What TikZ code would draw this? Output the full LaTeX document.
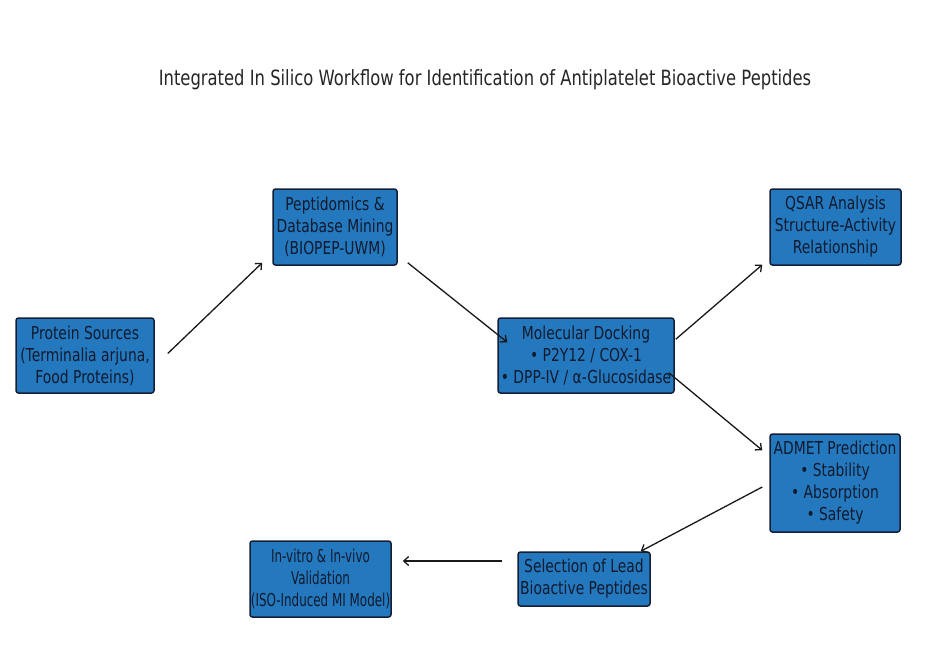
\documentclass[tikz,border=0pt]{standalone}
\usepackage{fontspec}
\setmainfont{DejaVu Sans}[FakeStretch=0.78]
\newfontfamily\narrowfont{DejaVu Sans}[FakeStretch=0.67]
\usetikzlibrary{arrows.meta,calc}
\definecolor{boxfill}{RGB}{36,120,190}
\definecolor{boxline}{RGB}{20,30,52}
\definecolor{txt}{RGB}{18,26,46}
\tikzset{
  stepbox/.style={draw=boxline, line width=1.5pt, fill=boxfill, rounded corners=2.5pt,
    inner sep=0pt, align=center, text=txt,
    font=\fontsize{17.8}{22}\selectfont},
  arr/.style={draw=black!90, line width=1.3pt, -{Straight Barb[length=5pt,width=9pt]}}
}
\begin{document}
\begin{tikzpicture}[x=1pt,y=-1pt]
\useasboundingbox[fill=white] (0,0) rectangle (926,670);
\node[font=\fontsize{21}{24}\selectfont, text=black!85] (title) at (485,80) {Integrated In Silico Workflow for Identification of Antiplatelet Bioactive Peptides};

\node[stepbox, minimum width=138pt, minimum height=75pt] (p1) at (85,355.5)
  {Protein Sources\\(Terminalia arjuna,\\Food Proteins)};
\node[stepbox, minimum width=124pt, minimum height=76pt] (p2) at (335,227)
  {Peptidomics \&\\Database Mining\\(BIOPEP-UWM)};
\node[stepbox, minimum width=176pt, minimum height=75pt] (p3) at (586,355.5)
  {Molecular Docking\\• P2Y12 / COX-1\\• DPP-IV / α-Glucosidase};
\node[stepbox, minimum width=131pt, minimum height=76pt] (p4) at (835.5,227)
  {QSAR Analysis\\Structure-Activity\\Relationship};
\node[stepbox, minimum width=130pt, minimum height=98pt] (p5) at (835,483)
  {ADMET Prediction\\• Stability\\• Absorption\\• Safety};
\node[stepbox, minimum width=132pt, minimum height=54pt] (p6) at (584,579)
  {Selection of Lead\\Bioactive Peptides};
\node[stepbox, minimum width=141pt, minimum height=76pt, font=\narrowfont\fontsize{17.8}{22}\selectfont] (p7) at (320.5,579)
  {In-vitro \& In-vivo\\Validation\\(ISO-Induced MI Model)};

\draw[arr] ($(p1.east)+(13,-2)$) -- ($(p2.south west)+(-10,-3)$);
\draw[arr] ($(p2.south east)+(10,-3)$) -- ($(p3.north west)+(10,25)$);
\draw[arr] ($(p3.north east)+(1,22)$) -- ($(p4.south west)+(-7,-1)$);
\draw[arr] ($(p3.south east)+(-6,-21)$) -- ($(p5.north west)+(-7,17)$);
\draw[arr] ($(p5.west)+(-7,4)$) -- ($(p6.north east)+(-10,0)$);
\draw[arr] ($(p6.west)+(-15,-18)$) -- ($(p7.east)+(11,-18)$);
\end{tikzpicture}
\end{document}
